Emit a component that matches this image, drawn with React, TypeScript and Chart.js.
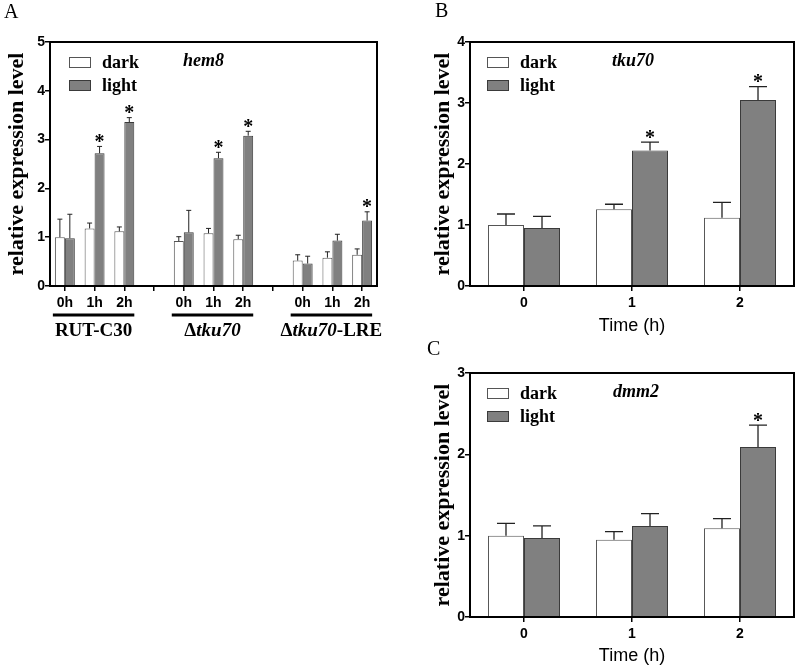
import React, { useEffect, useRef } from 'react';
import { Chart, registerables } from 'chart.js';

Chart.register(...registerables);

const SERIF = '"Liberation Serif", "Times New Roman", serif';
const SANS = '"Liberation Sans", Arial, sans-serif';

// ---------- Panel A : hem8 ----------
const groupsA = ['RUT-C30', 'Δtku70', 'Δtku70-LRE'];
const timesA = ['0h', '1h', '2h'];
const darkA = [1.0, 1.18, 1.12, 0.92, 1.08, 0.96, 0.52, 0.58, 0.64];
const darkErrA = [0.37, 0.11, 0.09, 0.09, 0.1, 0.08, 0.12, 0.12, 0.12];
const lightA = [0.98, 2.72, 3.36, 1.1, 2.62, 3.08, 0.46, 0.93, 1.34];
const lightErrA = [0.49, 0.14, 0.09, 0.45, 0.12, 0.09, 0.15, 0.13, 0.18];
const sigA = [false, true, true, false, true, true, false, false, true];
const yTicksA = [0, 1, 2, 3, 4, 5];

// ---------- Panel B : tku70 ----------
const timesB = ['0', '1', '2'];
const darkB = [1.0, 1.26, 1.12];
const darkErrB = [0.18, 0.08, 0.25];
const lightB = [0.95, 2.22, 3.05];
const lightErrB = [0.19, 0.14, 0.22];
const sigB = [false, true, true];
const yTicksB = [0, 1, 2, 3, 4];

// ---------- Panel C : dmm2 ----------
const timesC = ['0', '1', '2'];
const darkC = [1.0, 0.95, 1.09];
const darkErrC = [0.15, 0.1, 0.12];
const lightC = [0.97, 1.12, 2.09];
const lightErrC = [0.15, 0.15, 0.27];
const sigC = [false, false, true];
const yTicksC = [0, 1, 2, 3];

const legendLabels = ['dark', 'light'];
const xTitleBC = 'Time (h)';
const yTitle = 'relative expression level';

const DARK_FILL = '#ffffff';
const DARK_BORDER = '#555555';
const LIGHT_FILL = '#808080';
const LIGHT_BORDER = '#3a3a3a';

type Group = { label: string; from: number; to: number };
type PanelCfg = {
  letter: string;
  letterX: number;
  letterY: number;
  labels: string[];
  dark: (number | null)[];
  darkErr: (number | null)[];
  light: (number | null)[];
  lightErr: (number | null)[];
  sig: boolean[];
  yTicks: number[];
  gene: string;
  width: number;
  height: number;
  padding: { top: number; right: number; left: number; bottom: number };
  yWidth: number;
  xHeight: number;
  yTitlePad: number;
  xTitle?: string;
  legendBoxDx: number;
  legendTextDx: number;
  geneDx: number;
  catPct: number;
  errWidth: number;
  tickSize: number;
  groups?: Group[];
};

function buildA() {
  const labels: string[] = [];
  const dark: (number | null)[] = [];
  const darkErr: (number | null)[] = [];
  const light: (number | null)[] = [];
  const lightErr: (number | null)[] = [];
  const sig: boolean[] = [];
  const groups: Group[] = [];
  groupsA.forEach((g, gi) => {
    if (gi > 0) {
      labels.push('');
      dark.push(null);
      darkErr.push(null);
      light.push(null);
      lightErr.push(null);
      sig.push(false);
    }
    const from = labels.length;
    timesA.forEach((t, ti) => {
      const k = gi * timesA.length + ti;
      labels.push(t);
      dark.push(darkA[k]);
      darkErr.push(darkErrA[k]);
      light.push(lightA[k]);
      lightErr.push(lightErrA[k]);
      sig.push(sigA[k]);
    });
    groups.push({ label: g, from, to: labels.length - 1 });
  });
  return { labels, dark, darkErr, light, lightErr, sig, groups };
}

const a = buildA();

const panelA: PanelCfg = {
  letter: 'A',
  letterX: 4,
  letterY: 18,
  labels: a.labels,
  dark: a.dark,
  darkErr: a.darkErr,
  light: a.light,
  lightErr: a.lightErr,
  sig: a.sig,
  yTicks: yTicksA,
  gene: 'hem8',
  width: 400,
  height: 345,
  padding: { top: 42, right: 23, left: 0, bottom: 0 },
  yWidth: 50,
  xHeight: 59,
  yTitlePad: 4,
  legendBoxDx: 19,
  legendTextDx: 52,
  geneDx: 133,
  catPct: 0.67,
  errWidth: 1,
  tickSize: 14,
  groups: a.groups,
};

const panelB: PanelCfg = {
  letter: 'B',
  letterX: 35,
  letterY: 17,
  labels: timesB,
  dark: darkB,
  darkErr: darkErrB,
  light: lightB,
  lightErr: lightErrB,
  sig: sigB,
  yTicks: yTicksB,
  gene: 'tku70',
  width: 396,
  height: 337,
  padding: { top: 42, right: 2, left: 0, bottom: 0 },
  yWidth: 70,
  xHeight: 51,
  yTitlePad: 30,
  xTitle: xTitleBC,
  legendBoxDx: 17,
  legendTextDx: 50,
  geneDx: 142,
  catPct: 0.667,
  errWidth: 1.3,
  tickSize: 14,
};

const panelC: PanelCfg = {
  letter: 'C',
  letterX: 27,
  letterY: 18,
  labels: timesC,
  dark: darkC,
  darkErr: darkErrC,
  light: lightC,
  lightErr: lightErrC,
  sig: sigC,
  yTicks: yTicksC,
  gene: 'dmm2',
  width: 396,
  height: 330,
  padding: { top: 36, right: 2, left: 0, bottom: 0 },
  yWidth: 70,
  xHeight: 50,
  yTitlePad: 30,
  xTitle: xTitleBC,
  legendBoxDx: 17,
  legendTextDx: 50,
  geneDx: 143,
  catPct: 0.667,
  errWidth: 1.3,
  tickSize: 14,
};

function drawGroupLabel(ctx: CanvasRenderingContext2D, text: string, cx: number, y: number) {
  const segs: [string, string][] = [];
  const gene = 'tku70';
  if (text.startsWith('Δ')) {
    segs.push(['Δ', `bold 19px ${SERIF}`]);
    const rest = text.slice(1);
    const idx = rest.indexOf(gene);
    if (idx === 0) {
      segs.push([gene, `italic bold 19px ${SERIF}`]);
      const tail = rest.slice(gene.length);
      if (tail) segs.push([tail, `bold 19px ${SERIF}`]);
    } else segs.push([rest, `bold 19px ${SERIF}`]);
  } else segs.push([text, `bold 19px ${SERIF}`]);
  let total = 0;
  const widths = segs.map(([t, f]) => {
    ctx.font = f;
    const w = ctx.measureText(t).width;
    total += w;
    return w;
  });
  let x = cx - total / 2;
  ctx.textAlign = 'left';
  ctx.textBaseline = 'alphabetic';
  segs.forEach(([t, f], i) => {
    ctx.font = f;
    ctx.fillText(t, x, y);
    x += widths[i];
  });
}

function Panel({ cfg, left, top }: { cfg: PanelCfg; left: number; top: number }) {
  const ref = useRef<HTMLCanvasElement>(null);
  useEffect(() => {
    const canvas = ref.current!;
    const errs = [cfg.darkErr, cfg.lightErr];
    const decor = {
      id: 'decor',
      afterDatasetsDraw(chart: any) {
        const ctx: CanvasRenderingContext2D = chart.ctx;
        const ys = chart.scales.y;
        ctx.save();
        chart.data.datasets.forEach((ds: any, di: number) => {
          const meta = chart.getDatasetMeta(di);
          meta.data.forEach((bar: any, i: number) => {
            const v = ds.data[i];
            const e = errs[di][i];
            if (v == null || e == null) return;
            const topY = ys.getPixelForValue(v + e);
            const half = bar.width / 4;
            ctx.strokeStyle = '#222';
            ctx.lineWidth = cfg.errWidth;
            ctx.beginPath();
            ctx.moveTo(bar.x, bar.y);
            ctx.lineTo(bar.x, topY);
            ctx.moveTo(bar.x - half, topY);
            ctx.lineTo(bar.x + half, topY);
            ctx.stroke();
            if (di === 1 && cfg.sig[i]) {
              ctx.fillStyle = '#000';
              ctx.font = `bold 20px ${SERIF}`;
              ctx.textAlign = 'center';
              ctx.textBaseline = 'alphabetic';
              ctx.fillText('*', bar.x, topY + 1.5);
            }
          });
        });
        ctx.restore();
      },
      afterDraw(chart: any) {
        const ctx: CanvasRenderingContext2D = chart.ctx;
        const ca = chart.chartArea;
        ctx.save();
        // frame
        ctx.strokeStyle = '#000';
        ctx.lineWidth = 2;
        ctx.strokeRect(ca.left, ca.top, ca.right - ca.left, ca.bottom - ca.top);
        // legend
        const fills = [DARK_FILL, LIGHT_FILL];
        const borders = [DARK_BORDER, LIGHT_BORDER];
        legendLabels.forEach((lab, i) => {
          const by = ca.top + 15 + i * 23;
          ctx.fillStyle = fills[i];
          ctx.fillRect(ca.left + cfg.legendBoxDx, by, 22, 11);
          ctx.strokeStyle = borders[i];
          ctx.lineWidth = 1;
          ctx.strokeRect(ca.left + cfg.legendBoxDx + 0.5, by + 0.5, 21, 10);
          ctx.fillStyle = '#000';
          ctx.font = `bold 18px ${SERIF}`;
          ctx.textAlign = 'left';
          ctx.textBaseline = 'alphabetic';
          ctx.fillText(lab, ca.left + cfg.legendTextDx, ca.top + 26 + i * 22.5);
        });
        // gene name
        ctx.font = `italic bold 18px ${SERIF}`;
        ctx.fillStyle = '#000';
        ctx.fillText(cfg.gene, ca.left + cfg.geneDx, ca.top + 24);
        // panel letter
        ctx.font = `20px ${SERIF}`;
        ctx.fillText(cfg.letter, cfg.letterX, cfg.letterY);
        // groups (panel A)
        if (cfg.groups) {
          const xs = chart.scales.x;
          cfg.groups.forEach((g) => {
            const x0 = xs.getPixelForValue(g.from) - 12;
            const x1 = xs.getPixelForValue(g.to) + 10;
            ctx.strokeStyle = '#000';
            ctx.lineWidth = 3;
            ctx.beginPath();
            ctx.moveTo(x0, ca.bottom + 29);
            ctx.lineTo(x1, ca.bottom + 29);
            ctx.stroke();
            ctx.fillStyle = '#000';
            drawGroupLabel(ctx, g.label, (x0 + x1) / 2, ca.bottom + 50);
          });
        }
        ctx.restore();
      },
    };
    const chart = new Chart(canvas, {
      type: 'bar',
      data: {
        labels: cfg.labels,
        datasets: [
          {
            label: legendLabels[0],
            data: cfg.dark as any,
            backgroundColor: DARK_FILL,
            borderColor: DARK_BORDER,
            borderWidth: 1,
            categoryPercentage: cfg.catPct,
            barPercentage: 1,
          },
          {
            label: legendLabels[1],
            data: cfg.light as any,
            backgroundColor: LIGHT_FILL,
            borderColor: LIGHT_BORDER,
            borderWidth: 1,
            categoryPercentage: cfg.catPct,
            barPercentage: 1,
          },
        ],
      },
      options: {
        responsive: false,
        animation: false,
        devicePixelRatio: 1,
        layout: { padding: cfg.padding },
        plugins: { legend: { display: false }, tooltip: { enabled: false } },
        scales: {
          x: {
            grid: {
              offset: false,
              drawOnChartArea: false,
              drawTicks: true,
              tickLength: 5,
              color: '#000',
              lineWidth: 1.5,
            },
            border: { display: true, color: '#000', width: 2 },
            ticks: {
              color: '#000',
              font: { family: SANS, size: cfg.tickSize, weight: 'bold' },
              padding: 4,
              maxRotation: 0,
              autoSkip: false,
            },
            title: cfg.xTitle
              ? {
                  display: true,
                  text: cfg.xTitle,
                  color: '#000',
                  font: { family: SANS, size: 18 },
                  padding: { top: 0, bottom: 0 },
                }
              : { display: false },
            afterFit: (s: any) => {
              s.height = cfg.xHeight;
            },
          },
          y: {
            min: 0,
            max: cfg.yTicks[cfg.yTicks.length - 1],
            afterBuildTicks: (s: any) => {
              s.ticks = cfg.yTicks.map((v) => ({ value: v }));
            },
            grid: {
              drawOnChartArea: false,
              drawTicks: true,
              tickLength: 5,
              color: '#000',
              lineWidth: 1.5,
            },
            border: { display: true, color: '#000', width: 2 },
            ticks: {
              color: '#000',
              font: { family: SANS, size: cfg.tickSize, weight: 'bold' },
              padding: 0,
            },
            title: {
              display: true,
              text: yTitle,
              color: '#000',
              font: { family: SERIF, size: 22, weight: 'bold' },
              padding: { top: cfg.yTitlePad, bottom: 0 },
            },
            afterFit: (s: any) => {
              s.width = cfg.yWidth;
            },
          },
        },
      },
      plugins: [decor],
    } as any);
    return () => chart.destroy();
  }, [cfg]);
  return (
    <canvas
      ref={ref}
      width={cfg.width}
      height={cfg.height}
      style={{ position: 'absolute', left, top, width: cfg.width, height: cfg.height }}
    />
  );
}

export default function App() {
  return (
    <div
      style={{
        position: 'absolute',
        left: 0,
        top: 0,
        width: 796,
        height: 667,
        background: '#fff',
        overflow: 'hidden',
      }}
    >
      <Panel cfg={panelA} left={0} top={0} />
      <Panel cfg={panelB} left={400} top={0} />
      <Panel cfg={panelC} left={400} top={337} />
    </div>
  );
}
